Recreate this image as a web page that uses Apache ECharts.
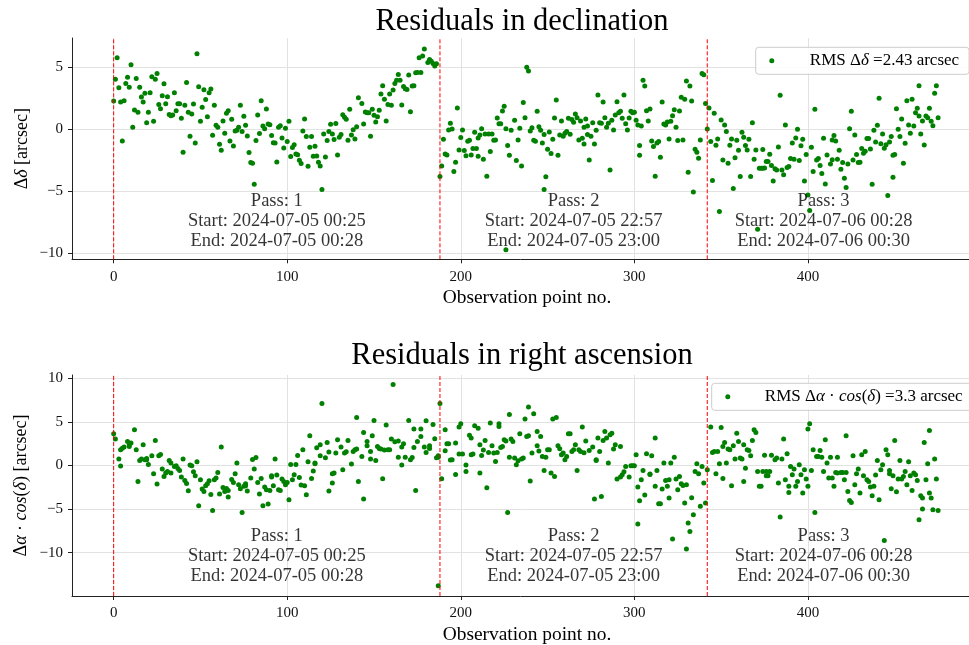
<!DOCTYPE html>
<html><head><meta charset="utf-8">
<script src="https://cdn.jsdelivr.net/npm/echarts@6/dist/echarts.min.js"></script>
<style>html,body{margin:0;padding:0;background:#fff}#c{width:969px;height:645px}</style>
</head><body><div id="c"></div>
<script>
// ---- tick labels / categories ----
const xTicks = [0, 100, 200, 300, 400];
const decTicks = [-10, -5, 0, 5];
const raTicks = [-10, -5, 0, 5, 10];
const passBoundaries = [0, 188, 342];
const passNames = ['1', '2', '3'];
const passStarts = ['2024-07-05 00:25', '2024-07-05 22:57', '2024-07-06 00:28'];
const passEnds = ['2024-07-05 00:28', '2024-07-05 23:00', '2024-07-06 00:30'];
const passCenters = [94, 265, 409];
const decRms = '2.43';
const raRms = '3.3';

// ---- residuals in declination: [observation point no., arcsec] ----
const decPass1 = [[0,2.28],[1,4.03],[2,5.78],[3,3.36],[4,2.2],[5,-0.94],[6,2.3],[7,3.7],[8,4.2],[9,3.4],[10,5.2],[11,0.16],[12,1.55],[13,4.1],[14,1.37],[15,3.4],[16,2.6],[17,2.2],[18,2.9],[19,0.53],[20,1.37],[21,2.95],[22,4.24],[23,0.64],[24,4.03],[25,4.5],[26,2.0],[27,1.66],[28,2.7],[29,3.68],[30,2.07],[31,2.63],[32,1.2],[33,1.1],[34,1.15],[35,2.95],[36,1.5],[37,2.07],[38,2.07],[39,0.88],[40,-1.86],[41,1.93],[42,3.78],[43,1.37],[44,-0.57],[45,1.23],[46,2.04],[47,-1.1],[48,6.1],[49,3.44],[50,0.64],[51,1.77],[52,3.2],[53,2.4],[54,1.02],[55,2.95],[56,3.25],[57,-0.49],[58,1.93],[59,0.32],[60,0.16],[61,-1.21],[62,-1.7],[63,0.67],[64,-0.33],[65,1.29],[66,1.5],[67,-0.94],[68,0.8],[69,-1.35],[70,-0.14],[71,-0.08],[72,0.16],[73,1.93],[74,-0.19],[75,1.05],[76,0.32],[77,-0.54],[78,-1.88],[79,-2.69],[80,-2.74],[81,-4.44],[82,-0.91],[83,1.15],[84,-0.35],[85,2.3],[86,0.27],[87,0.05],[88,1.63],[89,0.43],[90,0.37],[91,-0.51],[92,-1.08],[93,-1.1],[94,-2.64],[95,0.16],[96,0.29],[97,-0.7],[98,-1.51],[99,0.08],[100,-0.99],[101,0.64],[102,-2.2],[103,-1.48],[104,-1.24],[105,-1.99],[106,-2.05],[107,-2.5],[108,-2.77],[109,-0.14],[110,0.83],[111,-0.59],[112,-2.98],[113,-1.45],[114,-0.59],[115,-2.18],[116,-1.37],[117,-2.15],[118,-2.66],[119,-2.96],[120,-4.87],[121,-0.38],[122,-2.23],[123,-0.91],[124,-0.19],[125,0.4],[126,-0.38],[127,-0.83],[128,0.46],[129,-2.07],[130,-0.65],[131,-0.43],[132,1.18],[133,0.97],[134,0.8],[135,-0.89],[136,1.61],[137,-0.46],[138,-0.03],[139,-0.78],[140,0.21],[141,2.55],[143,2.09],[144,0.43],[145,1.4],[146,1.34],[147,1.34],[148,-0.57],[149,1.61],[150,1.13],[151,0.59],[152,1.02],[153,1.53],[154,2.85],[155,3.52],[156,2.42],[157,0.67],[158,2.01],[159,2.85],[160,1.93],[161,3.17],[162,3.7],[163,3.95],[164,4.43],[165,3.95],[166,1.96],[167,3.46],[168,3.27],[169,3.22],[170,4.38],[171,1.42],[172,3.49],[173,3.52],[174,4.56],[175,4.59],[176,5.78],[177,4.59],[178,5.91],[179,6.48],[181,5.4],[182,5.64],[183,5.5],[184,5.32],[185,5.1],[186,5.29]];
const decPass2 = [[188,-3.82],[189,-2.96],[190,-0.81],[191,-1.99],[192,-2.07],[193,-0.06],[194,0.48],[195,0.02],[196,-3.42],[197,-2.66],[198,1.72],[199,-1.67],[200,-0.67],[201,-0.06],[202,-1.72],[203,-2.13],[204,-0.97],[205,-0.89],[206,-2.07],[207,-1.56],[208,-0.24],[209,-1.56],[210,-2.18],[210,-0.7],[211,-0.46],[212,0.05],[213,-2.42],[214,-0.38],[215,-3.79],[216,-0.38],[217,-1.8],[218,-0.38],[219,-0.89],[220,-0.86],[221,0.91],[222,0.45],[223,0.45],[224,1.48],[225,1.85],[226,-9.73],[226,0.05],[227,-1.32],[228,-2.1],[229,-0.08],[231,0.72],[232,-2.53],[233,-0.86],[234,0.08],[235,-2.96],[236,2.17],[237,0.94],[238,5.0],[239,4.7],[240,-0.14],[241,0.13],[242,-0.89],[243,-0.97],[244,1.45],[245,0.21],[246,-0.08],[247,-1.1],[248,-0.43],[248,-4.87],[249,-3.84],[250,-1.61],[251,-0.22],[252,-1.96],[253,-0.81],[254,0.91],[255,2.36],[256,-2.1],[257,-0.46],[258,0.67],[259,-0.57],[260,-0.33],[261,-0.19],[262,0.88],[263,-0.41],[264,0.78],[265,0.56],[266,1.23],[267,0.94],[268,-0.86],[269,0.67],[270,-0.73],[271,0.16],[272,0.83],[271,-1.18],[273,0.27],[273,-0.43],[274,-2.48],[275,-0.57],[276,0.53],[277,-1.18],[278,-0.08],[279,2.77],[280,0.53],[281,0.48],[282,2.2],[283,0.94],[284,0.16],[285,0.48],[286,-3.28],[287,0.72],[288,-0.06],[289,1.15],[290,2.23],[291,1.34],[292,1.45],[293,0.88],[294,2.77],[295,0.45],[296,-0.06],[297,0.91],[298,1.45],[299,1.34],[300,1.37],[301,0.72],[302,0.35],[303,-1.32],[303,-2.1],[304,0.27],[305,3.95],[306,3.49],[307,1.5],[308,0.67],[309,1.64],[310,-0.94],[311,-1.4],[312,-3.79],[313,-1.1],[314,-0.99],[315,-2.26],[316,2.2],[317,0.43],[318,0.35],[319,0.59],[320,-0.78],[321,0.64],[322,1.1],[323,1.58],[324,0.16],[325,-0.91],[326,1.48],[327,2.58],[328,-0.86],[329,2.42],[330,3.89],[331,-3.47],[332,3.49],[333,2.28],[334,-5.06],[335,-1.61],[336,-1.85],[337,-2.34],[338,-0.86],[339,4.51],[340,4.4],[341,2.09]];
const decPass3 = [[342,0.02],[343,1.72],[344,-0.99],[345,-4.14],[346,1.29],[347,-1.29],[348,-0.78],[349,-6.65],[350,0.75],[351,-2.48],[352,0.35],[353,-0.19],[354,-2.74],[355,-1.29],[356,-0.78],[357,-4.79],[358,-2.29],[359,-0.89],[360,-1.7],[361,-3.82],[362,-0.24],[363,-0.65],[364,-1.32],[365,-1.67],[366,-0.81],[367,-3.82],[368,0.53],[369,-2.42],[370,-1.67],[371,-8.07],[372,-3.15],[373,-3.15],[374,-3.15],[374,-1.64],[375,-3.12],[376,-2.61],[377,-2.61],[378,-2.02],[379,-2.93],[380,-4.17],[381,-3.18],[382,-3.28],[383,-1.43],[384,2.74],[385,-3.28],[386,-3.68],[387,0.35],[388,-3.09],[389,-3.01],[390,-2.37],[391,-1.1],[392,-2.42],[393,-0.7],[394,0.0],[395,-2.53],[396,-1.34],[397,-0.81],[398,-4.17],[399,-2.04],[400,-5.3],[401,-6.56],[402,-1.45],[403,-3.41],[404,1.61],[405,-2.48],[406,-2.37],[407,-2.93],[408,-3.58],[409,-0.73],[410,-4.41],[411,-2.07],[413,-2.8],[414,-2.47],[415,-0.51],[414,-0.86],[416,-0.94],[417,-2.42],[418,-1.69],[419,-3.23],[420,-2.69],[421,-3.95],[422,-4.7],[423,-2.8],[424,0.05],[425,1.45],[426,-2.48],[427,-0.46],[428,-2.04],[429,-2.69],[430,-2.66],[431,-1.56],[432,-1.94],[433,-1.78],[434,-0.75],[435,-0.75],[436,-1.59],[437,-4.44],[438,-0.08],[439,-1.02],[440,0.32],[441,2.5],[442,-1.16],[443,-0.38],[444,-1.53],[445,-1.24],[446,-5.35],[447,-1.02],[448,-0.59],[449,-2.1],[449,-3.87],[450,-2.04],[451,1.66],[452,0.0],[453,-0.59],[454,0.83],[455,-2.74],[456,-1.13],[457,2.31],[458,0.35],[459,-0.33],[460,2.42],[461,0.27],[462,1.34],[463,1.69],[464,1.07],[464,3.52],[465,-0.38],[466,0.67],[467,-1.27],[468,1.07],[469,0.94],[470,1.69],[471,0.64],[472,0.29],[473,2.9],[474,3.52],[475,0.94]];

// ---- residuals in right ascension (Δα·cos δ): [observation point no., arcsec] ----
const raPass1 = [[0,3.63],[1,3.02],[3,0.73],[4,-0.08],[4,1.79],[5,1.98],[6,2.1],[8,2.75],[9,2.37],[9,2.18],[10,2.56],[12,4.08],[13,1.79],[14,-1.83],[15,0.57],[16,0.73],[17,2.37],[18,0.65],[19,0.8],[19,0.65],[20,0.11],[22,1.11],[23,-0.95],[24,2.86],[25,-2.14],[26,1.11],[27,1.26],[28,-0.42],[29,-1.26],[30,-0.88],[31,-0.69],[32,0.57],[33,-0.88],[33,0.27],[35,-0.11],[36,-0.04],[37,-0.34],[38,-0.57],[39,-1.34],[40,0.73],[41,-1.72],[42,-2.06],[43,-2.9],[44,0.04],[45,-0.04],[46,-0.73],[47,-1.18],[48,0.42],[49,-4.62],[50,-1.64],[51,-2.71],[52,-2.98],[53,-2.33],[54,-2.1],[55,-1.76],[56,-3.32],[57,-5.15],[58,-1.64],[59,-1.45],[60,-0.8],[61,-3.28],[62,2.1],[63,-2.52],[64,-2.98],[65,-2.63],[66,-3.63],[66,-2.86],[68,-1.6],[69,-1.95],[70,-0.95],[71,0.27],[72,-2.21],[73,-2.67],[74,-5.38],[75,-2.4],[76,-2.1],[76,-2.33],[77,-2.94],[79,-1.45],[80,0.69],[81,-0.42],[82,0.92],[83,-1.95],[84,-3.28],[85,-1.49],[86,-4.62],[87,-2.48],[88,-2.79],[89,-4.43],[90,-2.86],[91,-1.34],[91,-1.18],[92,-2.33],[93,0.73],[94,-1.11],[95,-2.79],[96,-2.86],[97,-1.56],[98,-1.83],[99,-2.21],[100,-1.95],[101,-3.93],[102,0.11],[103,-1.64],[104,-1.07],[105,0.11],[106,1.15],[107,-1.37],[108,-2.25],[109,1.79],[110,-2.33],[111,-3.36],[112,0.42],[113,3.4],[114,-1.49],[115,-0.65],[116,0.19],[116,0.27],[117,2.02],[119,1.11],[119,2.37],[120,7.1],[122,0.88],[123,2.63],[124,1.53],[124,-2.94],[126,-2.02],[126,-0.95],[127,-0.88],[128,1.41],[129,2.94],[131,2.1],[132,-0.5],[133,1.41],[134,1.56],[135,2.86],[137,0.15],[138,1.6],[139,1.79],[140,5.5],[140,1.87],[141,-1.83],[143,1.03],[144,-3.85],[144,3.78],[146,2.25],[146,2.75],[148,0.73],[148,1.6],[149,3.4],[150,5.15],[151,0.57],[152,2.18],[153,1.95],[154,1.87],[155,-1.53],[156,1.76],[157,4.62],[158,1.79],[159,1.79],[160,3.02],[161,9.27],[162,2.71],[164,0.95],[164,2.79],[166,0.04],[166,2.1],[167,2.48],[168,0.95],[170,5.15],[171,0.65],[172,0.92],[173,2.06],[173,4.16],[174,-2.86],[175,2.75],[177,3.32],[177,4.16],[179,2.1],[180,5.11],[180,1.49],[182,1.95],[182,2.25],[184,4.69],[185,3.05],[186,0.88],[187,0.95],[187,1.11],[187,-13.78]];
const raPass2 = [[188,7.1],[189,-1.53],[191,4.08],[191,1.68],[192,2.48],[193,2.48],[194,0.61],[195,0.65],[197,-1.03],[197,2.56],[199,4.39],[199,1.3],[200,4.77],[201,1.3],[203,0.04],[203,-0.69],[205,3.47],[206,3.13],[206,1.22],[207,1.3],[208,4.54],[210,4.27],[211,-0.88],[211,2.37],[212,1.15],[213,1.76],[214,2.86],[215,-2.56],[216,1.49],[217,4.85],[218,2.25],[219,1.41],[220,0.46],[221,1.49],[222,4.77],[222,4.47],[223,2.06],[224,2.18],[225,2.94],[226,2.79],[227,-5.38],[228,0.95],[228,5.84],[229,3.02],[230,2.75],[231,0.84],[232,0.08],[233,0.53],[234,3.63],[235,0.73],[236,0.84],[237,5.31],[238,3.32],[239,6.68],[239,3.4],[240,-1.79],[241,1.41],[242,5.92],[244,3.89],[244,2.25],[245,1.64],[246,3.32],[247,1.03],[248,-0.57],[249,0.95],[250,1.79],[251,1.79],[252,-0.88],[253,5.31],[254,-1.26],[255,5.5],[256,2.25],[257,1.91],[258,1.22],[259,1.41],[260,0.65],[261,1.03],[262,3.63],[263,3.63],[264,1.6],[265,1.79],[266,2.37],[267,-0.57],[268,1.79],[269,1.6],[270,4.39],[271,1.45],[272,2.79],[274,1.72],[276,2.1],[277,-3.85],[278,0.65],[278,0.57],[279,3.13],[280,1.6],[281,-3.55],[282,2.86],[283,3.89],[284,3.13],[285,0.27],[286,3.51],[287,3.7],[288,1.87],[289,2.37],[290,-1.56],[292,-1.34],[292,2.18],[293,-1.07],[294,-0.73],[295,-0.11],[297,-1.34],[298,-0.04],[299,-0.04],[300,-0.04],[301,1.22],[302,-2.48],[302,-6.72],[303,-4.05],[304,-1.64],[305,-0.57],[306,-3.4],[307,1.34],[309,-1.03],[309,-0.99],[310,1.11],[312,3.13],[312,-2.4],[313,-0.57],[314,-4.39],[315,-4.39],[316,-2.71],[317,0.27],[318,-1.72],[319,-2.4],[320,-1.64],[320,-3.74],[321,0.27],[322,-8.44],[323,0.95],[324,-1.56],[325,-2.79],[326,-1.26],[327,-2.1],[328,-2.29],[329,-4.31],[330,-2.21],[330,-9.58],[331,-6.6],[332,-7.56],[333,-3.7],[334,-5.65],[335,-0.69],[336,0.19],[337,-0.95],[338,-4.69],[339,-0.11],[340,-2.02],[341,-4.31]];
const raPass3 = [[342,-0.5],[344,4.39],[345,1.49],[346,1.6],[348,1.6],[347,-0.95],[349,0.19],[350,4.35],[351,-1.49],[351,2.18],[352,2.63],[353,0.27],[354,1.87],[355,1.79],[356,-2.33],[357,2.25],[358,0.73],[359,3.7],[360,2.75],[361,0.84],[362,0.73],[363,-1.83],[363,2.37],[364,-0.31],[365,1.79],[366,1.72],[367,1.11],[368,2.86],[369,4.08],[370,3.78],[371,-0.69],[372,-2.4],[373,-2.4],[374,-0.69],[375,1.18],[376,-0.69],[376,-1.18],[377,-1.18],[378,-0.69],[379,1.18],[381,0.65],[382,0.84],[383,-2.02],[384,-5.92],[385,0.73],[386,3.02],[387,-1.64],[388,1.34],[389,-3.09],[389,-2.4],[390,-0.11],[391,-1.07],[392,-0.42],[393,-2.4],[394,-1.83],[395,0.08],[396,-1.07],[397,-3.17],[398,-0.5],[399,-1.56],[400,-2.4],[400,4.16],[401,4.77],[402,-0.57],[403,1.79],[404,-5.38],[405,1.03],[406,1.03],[407,1.72],[408,0.95],[409,-0.69],[410,2.94],[411,0.27],[412,-1.45],[413,0.95],[414,-1.45],[415,-2.4],[416,-0.8],[417,-0.88],[417,0.95],[419,-0.8],[420,-0.8],[421,-1.64],[422,-0.8],[422,3.4],[423,-2.98],[424,-4.01],[425,-4.24],[426,1.11],[427,-2.21],[428,-0.95],[429,-0.42],[430,-3.17],[431,1.22],[432,-1.18],[433,1.6],[434,-1.64],[435,-1.83],[436,-2.48],[437,-3.47],[438,-2.4],[439,-1.11],[440,0.57],[441,-3.93],[442,-0.5],[443,0.08],[444,-8.59],[445,1.79],[446,1.22],[447,-0.57],[447,-0.95],[448,-2.67],[449,-1.18],[450,2.86],[451,-3.02],[452,-1.56],[453,0.57],[454,-1.56],[455,-1.26],[456,-0.69],[457,-2.21],[458,0.42],[459,-1.18],[460,-2.86],[461,-0.88],[462,-1.07],[463,-1.72],[464,-6.22],[465,-3.47],[466,-5.0],[466,-3.74],[467,2.63],[468,-1.64],[469,0.19],[470,4.01],[470,-3.17],[471,-3.74],[472,-5.08],[473,0.73],[474,-1.56],[475,-5.15]];

// ---- styling / layout ----
const FONT = "'Liberation Serif','Times New Roman','DejaVu Serif',serif";
const GREEN = '#008000';
const RED = '#ff0000';
const DEC_NAME = 'RMS dec';
const RA_NAME = 'RMS ra';
const X_EXT = [-24, 492.8];
const DEC_EXT = [-10.5, 7.37];
const RA_EXT = [-14.96, 10.36];
const fmtTick = v => (v < 0 ? '\u2212' + Math.abs(v) : String(v));
const rich = (size) => ({
  n: {fontFamily: FONT, fontSize: size, color: '#000', lineHeight: size + 2},
  i: {fontFamily: FONT, fontSize: size, fontStyle: 'italic', color: '#000', lineHeight: size + 2}
});

function xAxisCfg(gi) {
  return {
    type: 'value', gridIndex: gi, min: X_EXT[0], max: X_EXT[1],
    name: 'Observation point no.', nameLocation: 'middle', nameGap: 29, nameMoveOverlap: false,
    nameTextStyle: {fontFamily: FONT, fontSize: 19.4, color: '#000', padding: [0, 0, 0, 13]},
    axisLine: {show: true, onZero: false, lineStyle: {color: '#222', width: 1}},
    axisTick: {show: true, length: 4, customValues: xTicks, lineStyle: {color: '#222', width: 1}},
    axisLabel: {customValues: xTicks, fontFamily: FONT, fontSize: 15, color: '#111', margin: 10, formatter: fmtTick},
    splitLine: {show: true, lineStyle: {color: '#e2e2e2', width: 1}}
  };
}
function yAxisCfg(gi, ext, ticks, name, gap) {
  return {
    type: 'value', gridIndex: gi, min: ext[0], max: ext[1],
    name: name, nameLocation: 'middle', nameGap: gap, nameRotate: 90, nameMoveOverlap: false,
    nameTextStyle: {fontFamily: FONT, fontSize: 18, color: '#000', rich: rich(18)},
    axisLine: {show: true, onZero: false, lineStyle: {color: '#222', width: 1}},
    axisTick: {show: true, length: 4, customValues: ticks, lineStyle: {color: '#222', width: 1}},
    axisLabel: {customValues: ticks, fontFamily: FONT, fontSize: 15, color: '#111', margin: 9, formatter: fmtTick},
    splitLine: {show: true, lineStyle: {color: '#e2e2e2', width: 1}}
  };
}
// vertical dashed red pass boundaries, drawn as line series through the axes
function boundarySeries(gi, ext) {
  return passBoundaries.map((b, k) => ({
    type: 'line', name: 'boundary' + gi + '_' + k, xAxisIndex: gi, yAxisIndex: gi,
    silent: true, symbol: 'none', z: 4, animation: false,
    lineStyle: {color: RED, type: [4, 2], width: 1},
    itemStyle: {color: RED},
    emphasis: {disabled: true},
    data: [[b, ext[0]], [b, ext[1]]]
  }));
}
function passLabelSeries(gi, yPos) {
  return {
    type: 'scatter', name: 'passes' + gi, xAxisIndex: gi, yAxisIndex: gi, silent: true,
    symbolSize: 0, z: 5,
    data: passCenters.map(c => [c, yPos]),
    label: {
      show: true, position: 'inside', align: 'center', verticalAlign: 'middle',
      fontFamily: FONT, fontSize: 18.5, lineHeight: 20, color: '#000',
      formatter: p => 'Pass: ' + passNames[p.dataIndex] + '\nStart: ' + passStarts[p.dataIndex] + '\nEnd: ' + passEnds[p.dataIndex]
    }
  };
}
function legendCfg(name, top, left, textPad, fmt) {
  return {
    data: [name], left: left, top: top, icon: 'circle', itemWidth: 20, itemHeight: 5, itemGap: 0,
    padding: [5, 10, 5, 13.6], borderColor: '#cccccc', borderWidth: 1, borderRadius: 3,
    backgroundColor: 'rgba(255,255,255,0.85)', selectedMode: false,
    textStyle: {fontFamily: FONT, fontSize: 17, color: '#000', rich: Object.assign(rich(17), {
      p: {fontFamily: FONT, fontSize: 17, color: '#000', lineHeight: 19, padding: [0, 0, 0, textPad]}
    })},
    formatter: fmt
  };
}

const chart = echarts.init(document.getElementById('c'), null, {renderer: 'canvas'});
chart.setOption({
  animation: false,
  backgroundColor: '#ffffff',
  title: [
    {text: 'Residuals in declination', left: 522, top: 6, textAlign: 'center', padding: 0,
     textStyle: {fontFamily: FONT, fontSize: 30.5, fontWeight: 'normal', color: '#000'}},
    {text: 'Residuals in right ascension', left: 522, top: 340.5, textAlign: 'center', padding: 0,
     textStyle: {fontFamily: FONT, fontSize: 30.5, fontWeight: 'normal', color: '#000'}}
  ],
  legend: [
    legendCfg(DEC_NAME, 47.3, 755.7, 23, () => '{p|RMS Δ}{i|δ}{n| =' + decRms + ' arcsec}'),
    legendCfg(RA_NAME, 383.3, 711.7, 22, () => '{p|RMS Δ}{i|α}{n| · }{i|cos}{n|(}{i|δ}{n|) =' + raRms + ' arcsec}')
  ],
  grid: [
    {left: 72, top: 38, width: 897, height: 221.3},
    {left: 72, top: 375, width: 897, height: 221}
  ],
  xAxis: [xAxisCfg(0), xAxisCfg(1)],
  yAxis: [
    yAxisCfg(0, DEC_EXT, decTicks, '{n|Δ}{i|δ}{n| [arcsec]}', 40),
    yAxisCfg(1, RA_EXT, raTicks, '{n|Δ}{i|α}{n| · }{i|cos}{n|(}{i|δ}{n|) [arcsec]}', 41)
  ],
  series: [
    {type: 'scatter', name: DEC_NAME, xAxisIndex: 0, yAxisIndex: 0, symbolSize: 5, z: 3,
     itemStyle: {color: GREEN, opacity: 1}, silent: true,
     data: decPass1.concat(decPass2, decPass3)},
    {type: 'scatter', name: RA_NAME, xAxisIndex: 1, yAxisIndex: 1, symbolSize: 5, z: 3,
     itemStyle: {color: GREEN, opacity: 1}, silent: true,
     data: raPass1.concat(raPass2, raPass3)},
    ...boundarySeries(0, DEC_EXT),
    ...boundarySeries(1, RA_EXT),
    passLabelSeries(0, -7.38),
    passLabelSeries(1, -10.42)
  ]
});
</script>
</body></html>
